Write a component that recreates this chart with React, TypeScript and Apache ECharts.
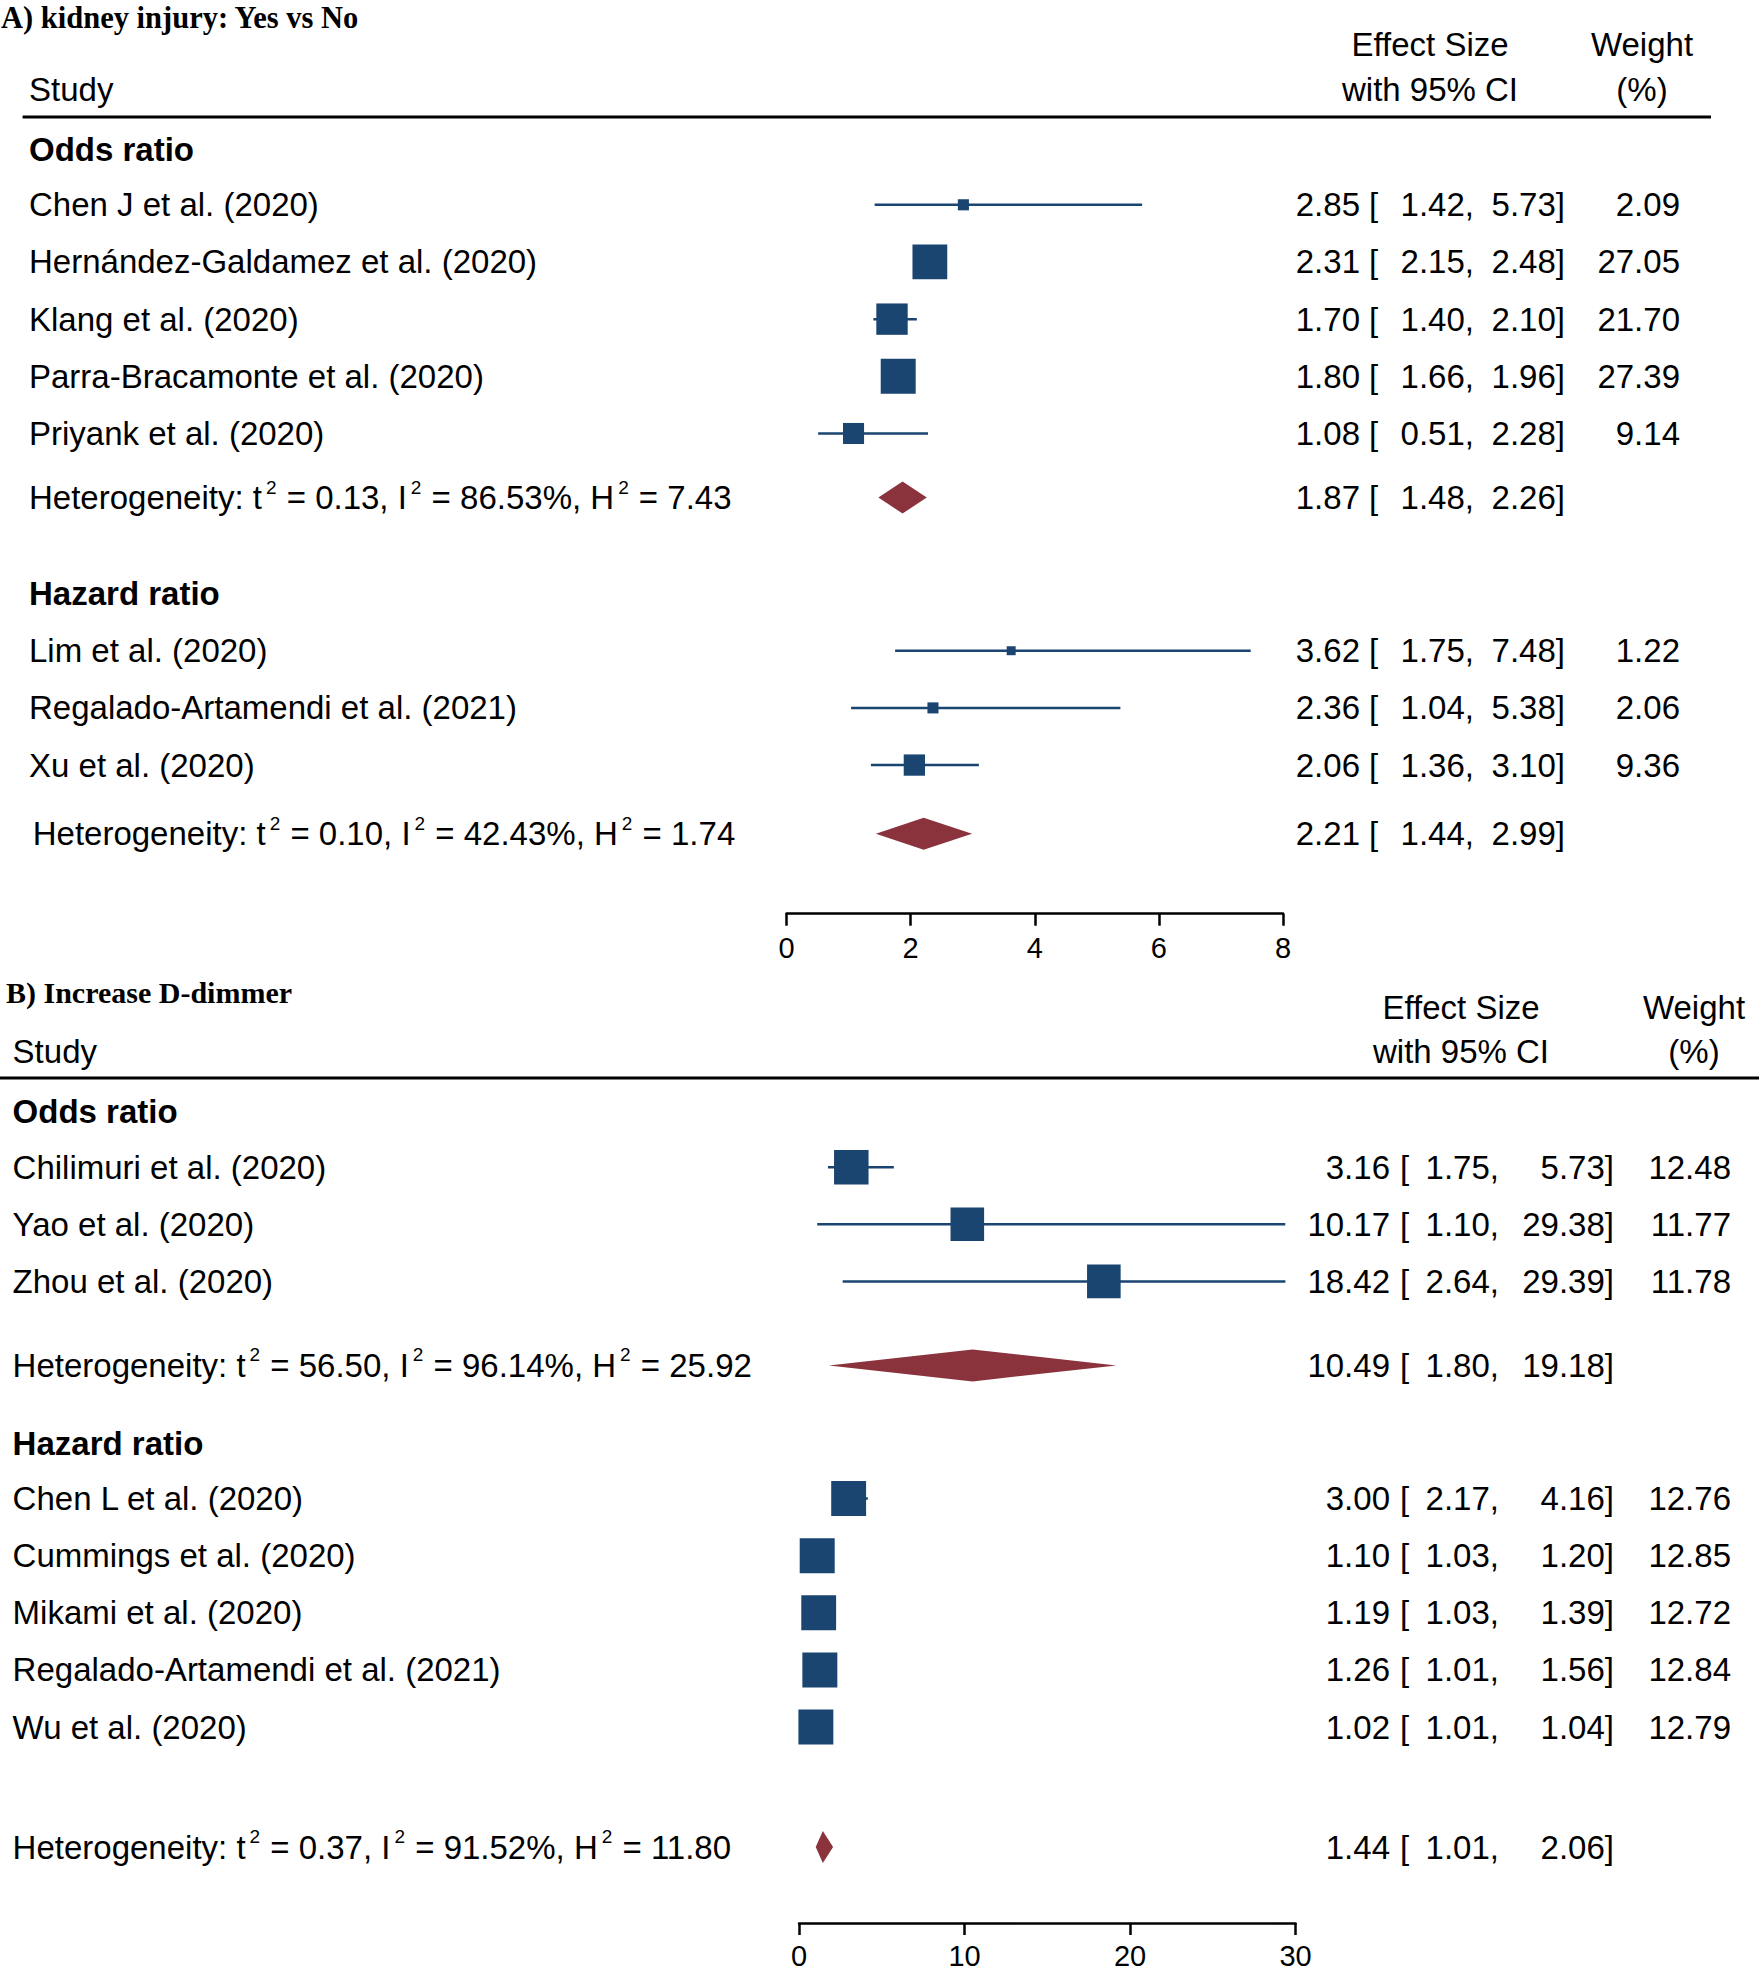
import React, { useEffect, useRef } from "react";
import * as echarts from "echarts";

// ---------------- Panel A: kidney injury ----------------
const titleA = "A) kidney injury: Yes vs No";
const groupLabelsA = ["Odds ratio", "Hazard ratio"];
const studiesA = [
  "Chen J et al. (2020)",
  "Hernández-Galdamez et al. (2020)",
  "Klang et al. (2020)",
  "Parra-Bracamonte et al. (2020)",
  "Priyank et al. (2020)",
  "Lim et al. (2020)",
  "Regalado-Artamendi et al. (2021)",
  "Xu et al. (2020)",
];
const esA = [2.85, 2.31, 1.7, 1.8, 1.08, 3.62, 2.36, 2.06];
const loA = [1.42, 2.15, 1.4, 1.66, 0.51, 1.75, 1.04, 1.36];
const hiA = [5.73, 2.48, 2.1, 1.96, 2.28, 7.48, 5.38, 3.1];
const weightA = [2.09, 27.05, 21.7, 27.39, 9.14, 1.22, 2.06, 9.36];
const sumEsA = [1.87, 2.21];
const sumLoA = [1.48, 1.44];
const sumHiA = [2.26, 2.99];
const tau2A = [0.13, 0.1];
const i2A = [86.53, 42.43];
const h2A = [7.43, 1.74];
const ticksA = [0, 2, 4, 6, 8];

// ---------------- Panel B: Increase D-dimmer ----------------
const titleB = "B) Increase D-dimmer";
const groupLabelsB = ["Odds ratio", "Hazard ratio"];
const studiesB = [
  "Chilimuri et al. (2020)",
  "Yao et al. (2020)",
  "Zhou et al. (2020)",
  "Chen L et al. (2020)",
  "Cummings et al. (2020)",
  "Mikami et al. (2020)",
  "Regalado-Artamendi et al. (2021)",
  "Wu et al. (2020)",
];
const esB = [3.16, 10.17, 18.42, 3.0, 1.1, 1.19, 1.26, 1.02];
const loB = [1.75, 1.1, 2.64, 2.17, 1.03, 1.03, 1.01, 1.01];
const hiB = [5.73, 29.38, 29.39, 4.16, 1.2, 1.39, 1.56, 1.04];
const weightB = [12.48, 11.77, 11.78, 12.76, 12.85, 12.72, 12.84, 12.79];
const sumEsB = [10.49, 1.44];
const sumLoB = [1.8, 1.01];
const sumHiB = [19.18, 2.06];
const tau2B = [56.5, 0.37];
const i2B = [96.14, 91.52];
const h2B = [25.92, 11.8];
const ticksB = [0, 10, 20, 30];

// ---------------- styling / layout ----------------
const W = 1759;
const H = 1970;
const NAVY = "#1b4571";
const MAROON = "#8b333d";
const FONT = "'Liberation Sans', Arial, Helvetica, sans-serif";
const SERIF = "'Liberation Serif', 'Times New Roman', serif";
const FS = 33;
const ROW_H = 57.17;

const panels = [
  {
    title: titleA, groups: groupLabelsA, names: studiesA,
    es: esA, lo: loA, hi: hiA, w: weightA,
    sEs: sumEsA, sLo: sumLoA, sHi: sumHiA, tau2: tau2A, i2: i2A, h2: h2A, ticks: ticksA,
    row0: 204.8, yMin: -1.5, yMax: 12.4, x0: 786.5, x1: 1283,
    studyRows: [0, 1, 2, 3, 4, 7.8, 8.8, 9.8], sumRows: [5.12, 11.0], groupRows: [-0.97, 6.8],
    nameX: 29, hetX: [29, 32.7],
    colEs: 1360, colBr: 1369, colLo: 1474, colHi: 1565, colW: 1680,
    labelMargin: 20,
    titleX: 1, titleY: 18, titleFs: 30.5,
    hdrY1: 44, hdrY2: 89, studyX: 29, effX: 1430, wX: 1642,
    lineY: 117, lineX1: 22.6, lineX2: 1711,
  },
  {
    title: titleB, groups: groupLabelsB, names: studiesB,
    es: esB, lo: loB, hi: hiB, w: weightB,
    sEs: sumEsB, sLo: sumLoB, sHi: sumHiB, tau2: tau2B, i2: i2B, h2: h2B, ticks: ticksB,
    row0: 1167.2, yMin: -1.5, yMax: 13.23, x0: 799, x1: 1295.5,
    studyRows: [0, 1, 2, 5.8, 6.8, 7.8, 8.8, 9.8], sumRows: [3.47, 11.9], groupRows: [-0.97, 4.83],
    nameX: 12.6, hetX: [12.6, 12.6],
    colEs: 1390, colBr: 1400, colLo: 1499, colHi: 1614, colW: 1731,
    labelMargin: 18,
    titleX: 6, titleY: 992.5, titleFs: 30,
    hdrY1: 1007.6, hdrY2: 1051.6, studyX: 12.6, effX: 1461, wX: 1694,
    lineY: 1078, lineX1: 0, lineX2: 1759,
  },
];

function txt(x: number, y: number, text: string, align: string, bold = false, extra: any = {}) {
  return {
    type: "text",
    x,
    y,
    style: {
      text,
      fill: "#000",
      fontSize: FS,
      fontFamily: FONT,
      fontWeight: bold ? "bold" : "normal",
      align,
      verticalAlign: "middle",
      ...extra,
    },
  };
}

function buildOption() {
  const grid: any[] = [];
  const xAxis: any[] = [];
  const yAxis: any[] = [];
  const series: any[] = [];
  const graphic: any[] = [];

  panels.forEach((P, pi) => {
    const maxW = Math.max(...P.w);
    grid.push({
      left: P.x0,
      width: P.x1 - P.x0,
      top: P.row0 + P.yMin * ROW_H,
      height: (P.yMax - P.yMin) * ROW_H,
      containLabel: false,
    });
    const t = P.ticks;
    xAxis.push({
      type: "value",
      gridIndex: pi,
      min: t[0],
      max: t[t.length - 1],
      interval: t[1] - t[0],
      position: "bottom",
      axisLine: { show: true, onZero: false, lineStyle: { color: "#000", width: 2.5 } },
      axisTick: { show: true, length: 12, lineStyle: { color: "#000", width: 2.5 } },
      axisLabel: { color: "#000", fontSize: 29, fontFamily: FONT, margin: P.labelMargin },
      splitLine: { show: false },
    });
    yAxis.push({
      type: "value",
      gridIndex: pi,
      inverse: true,
      min: P.yMin,
      max: P.yMax,
      show: false,
      splitLine: { show: false },
    });

    // studies
    series.push({
      type: "custom",
      xAxisIndex: pi,
      yAxisIndex: pi,
      silent: true,
      clip: false,
      data: P.es.map((v, i) => [v, P.studyRows[i], P.lo[i], P.hi[i], P.w[i]]),
      renderItem: (params: any, api: any) => {
        const i = params.dataIndex;
        const row = api.value(1);
        const c = api.coord([api.value(0), row]);
        const cl = api.coord([api.value(2), row]);
        const ch = api.coord([api.value(3), row]);
        const y = c[1];
        const s = 2 + 33 * Math.sqrt(api.value(4) / maxW);
        return {
          type: "group",
          children: [
            { type: "line", shape: { x1: cl[0], y1: y, x2: ch[0], y2: y }, style: { stroke: NAVY, lineWidth: 2.5 } },
            { type: "rect", shape: { x: c[0] - s / 2, y: y - s / 2, width: s, height: s }, style: { fill: NAVY } },
            txt(P.nameX, y, P.names[i], "left"),
            txt(P.colEs, y, P.es[i].toFixed(2), "right"),
            txt(P.colBr, y, "[", "left"),
            txt(P.colLo, y, P.lo[i].toFixed(2) + ",", "right"),
            txt(P.colHi, y, P.hi[i].toFixed(2) + "]", "right"),
            txt(P.colW, y, P.w[i].toFixed(2), "right"),
          ],
        };
      },
    });

    // summaries
    series.push({
      type: "custom",
      xAxisIndex: pi,
      yAxisIndex: pi,
      silent: true,
      clip: false,
      data: P.sEs.map((v, i) => [v, P.sumRows[i], P.sLo[i], P.sHi[i]]),
      renderItem: (params: any, api: any) => {
        const i = params.dataIndex;
        const row = api.value(1);
        const c = api.coord([api.value(0), row]);
        const cl = api.coord([api.value(2), row]);
        const ch = api.coord([api.value(3), row]);
        const y = c[1];
        const hh = 16;
        const het =
          "Heterogeneity: t{sup|2} = " + P.tau2[i].toFixed(2) +
          ", I{sup|2} = " + P.i2[i].toFixed(2) + "%, H{sup|2} = " + P.h2[i].toFixed(2);
        return {
          type: "group",
          children: [
            {
              type: "polygon",
              shape: { points: [[cl[0], y], [c[0], y - hh], [ch[0], y], [c[0], y + hh]] },
              style: { fill: MAROON },
            },
            txt(P.hetX[i], y, het, "left", false, {
              lineHeight: 40,
              rich: {
                sup: { fontSize: 19, fontFamily: FONT, fill: "#000", verticalAlign: "top", lineHeight: 16, padding: [0, 1, 0, 4] },
              },
            }),
            txt(P.colEs, y, P.sEs[i].toFixed(2), "right"),
            txt(P.colBr, y, "[", "left"),
            txt(P.colLo, y, P.sLo[i].toFixed(2) + ",", "right"),
            txt(P.colHi, y, P.sHi[i].toFixed(2) + "]", "right"),
          ],
        };
      },
    });

    // group headers
    series.push({
      type: "custom",
      xAxisIndex: pi,
      yAxisIndex: pi,
      silent: true,
      clip: false,
      data: P.groups.map((g, i) => [0, P.groupRows[i]]),
      renderItem: (params: any, api: any) => {
        const i = params.dataIndex;
        const c = api.coord([0, api.value(1)]);
        return txt(P.nameX, c[1], P.groups[i], "left", true);
      },
    });

    // titles / column headers / rule
    graphic.push(
      {
        type: "text",
        x: P.titleX,
        y: P.titleY,
        style: {
          text: P.title,
          fill: "#000",
          fontSize: P.titleFs,
          fontWeight: "bold",
          fontFamily: SERIF,
          align: "left",
          verticalAlign: "middle",
        },
      },
      txt(P.studyX, P.hdrY2, "Study", "left"),
      txt(P.effX, P.hdrY1, "Effect Size", "center"),
      txt(P.effX, P.hdrY2, "with 95% CI", "center"),
      txt(P.wX, P.hdrY1, "Weight", "center"),
      txt(P.wX, P.hdrY2, "(%)", "center"),
      {
        type: "line",
        shape: { x1: P.lineX1, y1: P.lineY, x2: P.lineX2, y2: P.lineY },
        style: { stroke: "#000", lineWidth: 3 },
      }
    );
  });

  return {
    animation: false,
    backgroundColor: "#fff",
    grid,
    xAxis,
    yAxis,
    series,
    graphic,
  };
}

export default function App() {
  const ref = useRef<HTMLDivElement>(null);
  useEffect(() => {
    document.body.style.margin = "0";
    if (!ref.current) return;
    const chart = echarts.init(ref.current, undefined, { renderer: "svg", width: W, height: H });
    chart.setOption(buildOption());
    return () => chart.dispose();
  }, []);
  return <div ref={ref} style={{ width: W, height: H, background: "#fff" }} />;
}
